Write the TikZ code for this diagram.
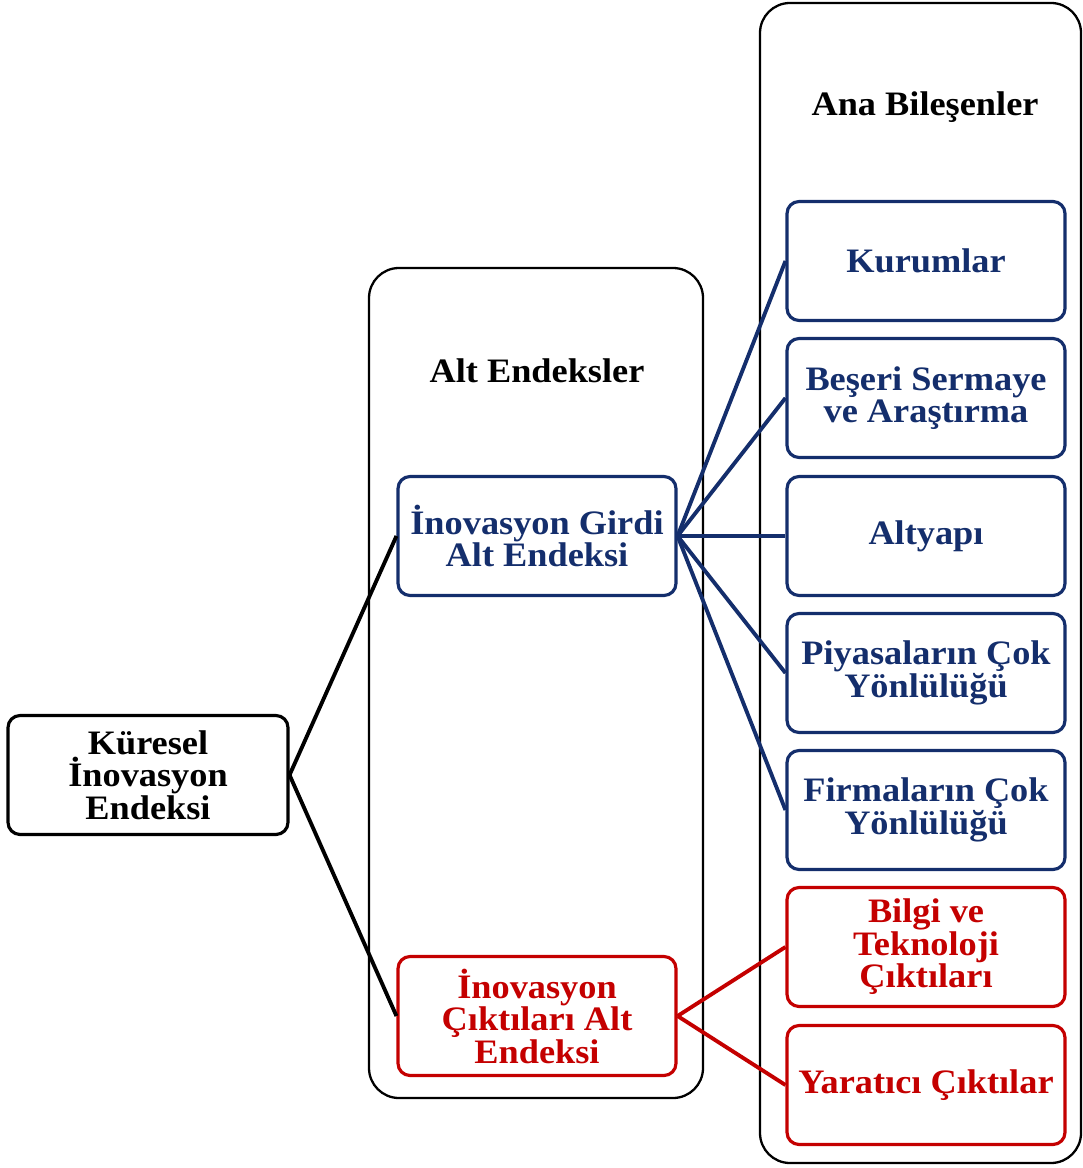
\documentclass[tikz,border=0pt]{standalone}
\usepackage{fontspec}
\setmainfont{Liberation Serif}[FakeStretch=1.06]
\definecolor{girdiblue}{RGB}{20,46,108}
\definecolor{ciktired}{RGB}{196,0,0}
\tikzset{
  frame/.style={draw=black, line width=1.3pt, rounded corners=0.6cm},
  box/.style={draw, line width=1.8pt, rounded corners=0.24cm, minimum width=5.56cm,
    minimum height=2.38cm, align=center, font=\bfseries\fontsize{19.5}{18.5}\selectfont},
  mainbox/.style={box, draw=black, text=black},
  inbox/.style={box, draw=girdiblue, text=girdiblue},
  outbox/.style={box, draw=ciktired, text=ciktired},
  heading/.style={font=\bfseries\fontsize{19.5}{18.5}\selectfont},
  link/.style={line width=2.2pt}
}
\begin{document}
\begin{tikzpicture}[x=0.02cm, y=-0.02cm]
\useasboundingbox (0,0) rectangle (1082,1168);
% column frames
\draw[frame] (369,268) rectangle (703,1098);
\draw[frame] (760,3) rectangle (1081,1163);
\node[heading] (altbaslik) at (537,371) {Alt Endeksler};
\node[heading] (anabaslik) at (925,107) {Ana Bileşenler};
% index and sub-indices
\node[mainbox, minimum width=5.6cm] (kuresel) at (148,775) {Küresel\\İnovasyon\\Endeksi};
\node[inbox] (girdi) at (537,536) {İnovasyon Girdi\\Alt Endeksi};
\node[outbox] (cikti) at (537,1016) {İnovasyon\\Çıktıları Alt\\Endeksi};
% main components
\node[inbox] (kurum) at (926,261) {Kurumlar};
\node[inbox] (beseri) at (926,398) {Beşeri Sermaye\\ve Araştırma};
\node[inbox] (altyapi) at (926,536) {Altyapı};
\node[inbox] (piyasa) at (926,673) {Piyasaların Çok\\Yönlülüğü};
\node[inbox] (firma) at (926,810) {Firmaların Çok\\Yönlülüğü};
\node[outbox] (bilgi) at (926,947) {Bilgi ve\\Teknoloji\\Çıktıları};
\node[outbox] (yaratici) at (926,1085) {Yaratıcı Çıktılar};
% connectors
\draw[link] (kuresel.east) -- (girdi.west);
\draw[link] (kuresel.east) -- (cikti.west);
\foreach \b in {kurum, beseri, altyapi, piyasa, firma}
  \draw[link, girdiblue] (girdi.east) -- (\b.west);
\foreach \b in {bilgi, yaratici}
  \draw[link, ciktired] (cikti.east) -- (\b.west);
\end{tikzpicture}
\end{document}
